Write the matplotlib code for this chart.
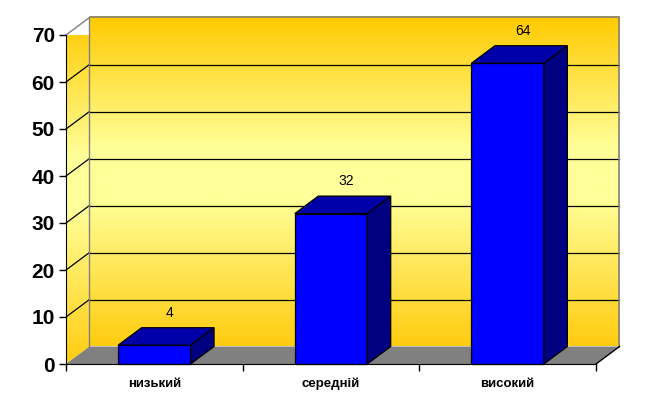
import numpy as np
import matplotlib
matplotlib.use("Agg")
import matplotlib.pyplot as plt
from matplotlib.patches import Polygon, Rectangle
from matplotlib.colors import LinearSegmentedColormap

categories = ["низький", "середній", "високий"]
values = [4, 32, 64]
yticks = [0, 10, 20, 30, 40, 50, 60, 70]

plt.rcParams['font.family'] = ['Liberation Sans', 'DejaVu Sans']

fig = plt.figure(figsize=(6.46, 4.09), dpi=100)
ax = fig.add_axes([66/646, 45/409, 530/646, 329/409])
ax.set_xlim(0, 3)
ax.set_ylim(0, 70)

# depth offsets (data units)
px_x = 530/3
px_y = 329/70
dx = 23.5/px_x
dy = 17.5/px_y
ymax = 70

cmap = LinearSegmentedColormap.from_list("wall", [
    (0.0, "#FFCC10"), (0.45, "#FFFF99"), (0.6, "#FFFF99"), (1.0, "#FFCA00")])
grad = np.linspace(0, 1, 256).reshape(-1, 1)

# back wall
im = ax.imshow(grad, cmap=cmap, aspect='auto', origin='lower',
               extent=(dx, 3+dx, dy, ymax+dy), zorder=0, clip_on=False)
# side wall
side = Polygon([(0, 0), (dx, dy), (dx, ymax+dy), (0, ymax)], closed=True,
               facecolor='none', edgecolor='none', zorder=0, clip_on=False)
ax.add_patch(side)
im2 = ax.imshow(grad, cmap=cmap, aspect='auto', origin='lower',
                extent=(0, dx, 0, ymax+dy), zorder=0)
im2.set_clip_path(side)
im2.set_clip_box(None)

# floor
floor = Polygon([(0, 0), (3, 0), (3+dx, dy), (dx, dy)], closed=True,
                facecolor='#808080', edgecolor='none', zorder=1, clip_on=False)
ax.add_patch(floor)

# gridlines
for v in yticks[1:-1]:
    ax.plot([dx, 3+dx], [v+dy, v+dy], color='black', lw=0.9, zorder=1, clip_on=False)
    ax.plot([0, dx], [v, v+dy], color='black', lw=0.9, zorder=1, clip_on=False)

# wall borders
ax.plot([dx, 3+dx, 3+dx], [ymax+dy, ymax+dy, dy], color='#808080', lw=1.2, zorder=1, clip_on=False)
ax.plot([0, dx, dx], [ymax, ymax+dy, dy], color='#808080', lw=1.0, zorder=1, clip_on=False)
ax.plot([3, 3+dx], [0, dy], color='black', lw=1.0, zorder=1, clip_on=False)

# bars
w = 0.41
for i, v in enumerate(values):
    x0 = i + 0.5 - w/2
    ax.add_patch(Rectangle((x0, 0), w, v, facecolor='#0000FF', edgecolor='black',
                           lw=0.9, zorder=3, clip_on=False))
    ax.add_patch(Polygon([(x0, v), (x0+w, v), (x0+w+dx, v+dy), (x0+dx, v+dy)],
                         closed=True, facecolor='#0000A8', edgecolor='black',
                         lw=0.9, zorder=3, clip_on=False))
    ax.add_patch(Polygon([(x0+w, 0), (x0+w+dx, dy), (x0+w+dx, v+dy), (x0+w, v)],
                         closed=True, facecolor='#000080', edgecolor='black',
                         lw=0.9, zorder=3, clip_on=False))
    ax.text(i + 0.5 + 0.088, v + 6.9, str(v), ha='center', va='center',
            fontsize=10, color='black', zorder=4)

# axes styling
for s in ['top', 'right']:
    ax.spines[s].set_visible(False)
ax.spines['left'].set_color('black')
ax.spines['bottom'].set_color('black')
ax.spines['left'].set_zorder(5)
ax.spines['bottom'].set_zorder(5)
ax.set_yticks(yticks)
ax.set_yticklabels([str(t) for t in yticks], fontsize=15, fontweight='bold')
ax.tick_params(axis='y', direction='out', length=5, width=1, pad=3)
ax.set_xticks([0, 1, 2, 3])
ax.set_xticklabels([])
ax.set_xticks([0.5, 1.5, 2.5], minor=True)
ax.set_xticklabels(categories, minor=True, fontsize=9.5, fontweight='bold')
ax.tick_params(axis='x', which='major', direction='out', length=5, width=1)
ax.tick_params(axis='x', which='minor', length=0, pad=10)
ax.set_facecolor('none')

fig.savefig("out.png", dpi=100)
